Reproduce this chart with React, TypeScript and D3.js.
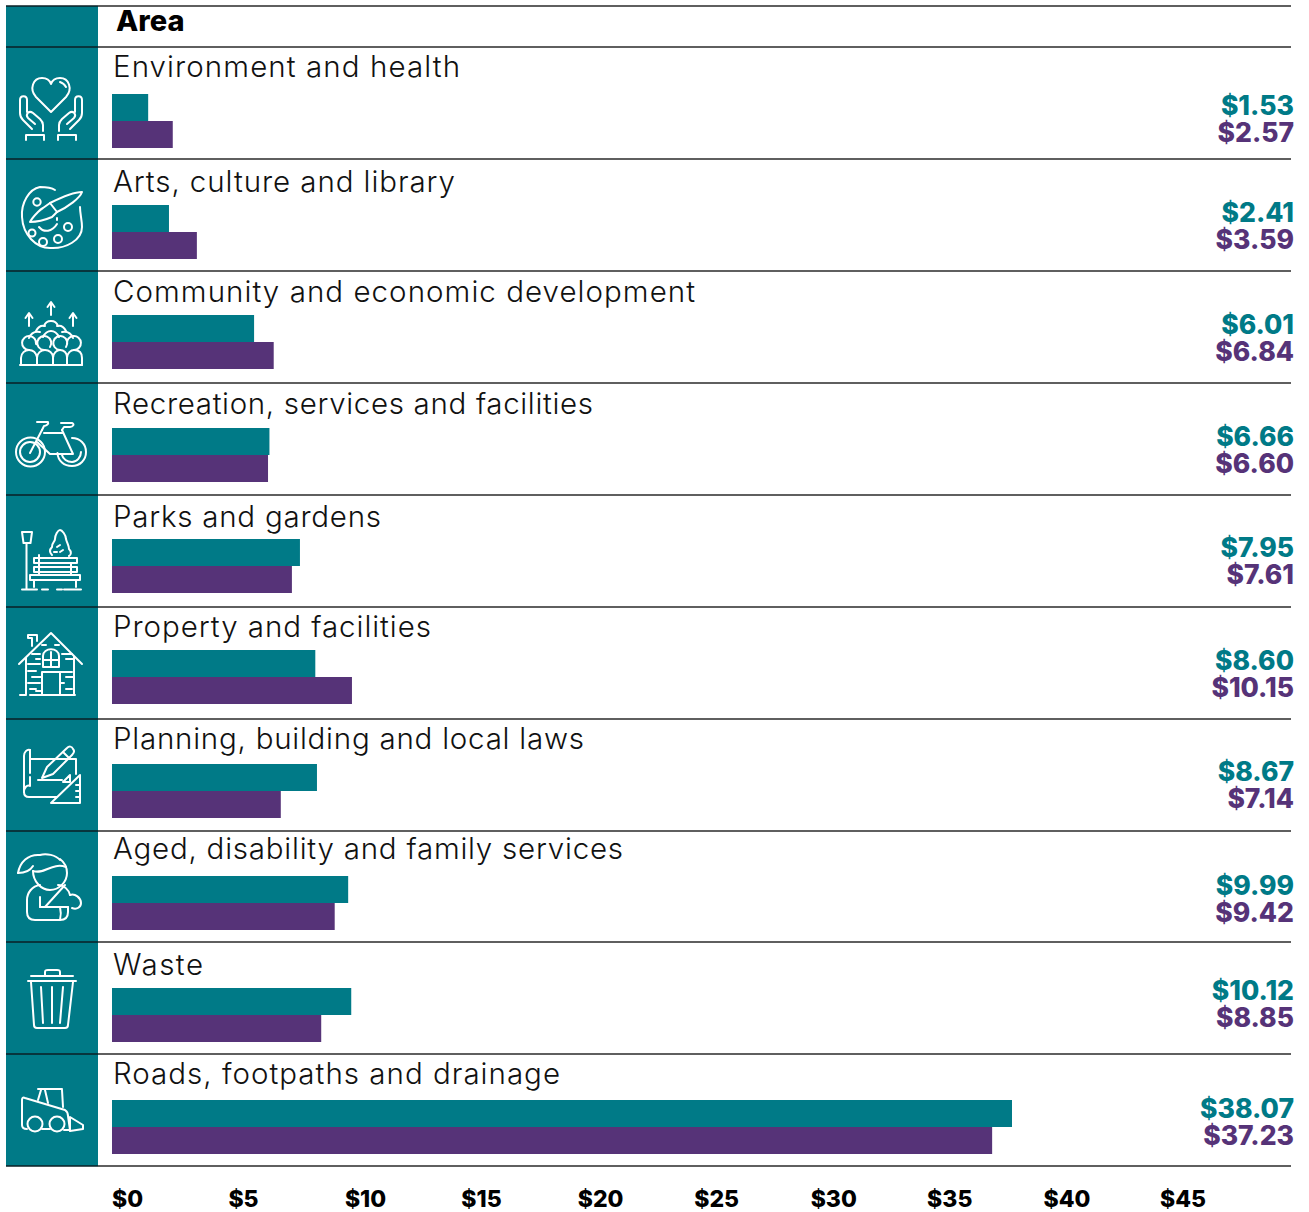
import React from "react";
import * as d3 from "d3";

// Cost per $100 of rates by service area: two financial years side by side
const areas = [
  "Environment and health",
  "Arts, culture and library",
  "Community and economic development",
  "Recreation, services and facilities",
  "Parks and gardens",
  "Property and facilities",
  "Planning, building and local laws",
  "Aged, disability and family services",
  "Waste",
  "Roads, footpaths and drainage",
];
const seriesA = [1.53, 2.41, 6.01, 6.66, 7.95, 8.6, 8.67, 9.99, 10.12, 38.07];
const seriesB = [2.57, 3.59, 6.84, 6.6, 7.61, 10.15, 7.14, 9.42, 8.85, 37.23];
const axisTicks = [0, 5, 10, 15, 20, 25, 30, 35, 40, 45];

// Row layout
const ruleYs = [6, 47, 159, 271, 383, 495, 607, 719, 831, 942, 1054, 1166];
const barTops = [94, 205, 315, 428, 539, 650, 764, 876, 988, 1100];
const nameBaselines = [77, 192, 302, 414, 527, 637, 749, 859, 975, 1084];
const nameWidths = [347, 342, 582, 480, 268, 318, 471, 510, 90, 447];
const valueBaselines = [114, 221, 333, 445, 556, 669, 780, 894, 999, 1117];

const TEAL = "#007a87";
const PURPLE = "#563378";
const FONT = "Inter, 'Noto Sans', sans-serif";

// Line-art pictograms, one per row
const icons: string[][] = [
  [
    "M51 112L36 97C29 89 33 78 42 78C47 78 50 81 51 84C52 81 55 78 60 78C69 78 73 89 66 97Z",
    "M60 82C63 83 65 85 66 87",
    "M32 129L23 120C21 118 20 116 20 113V100C20 95 27 95 27 100V112",
    "M43 131V125C43 123 42 121 40 119L33 113C29 110 25 114 28 118L35 124",
    "M26 140V135H44V140",
    "M70 129L79 120C81 118 82 116 82 113V100C82 95 75 95 75 100V112",
    "M59 131V125C59 123 60 121 62 119L69 113C73 110 77 114 74 118L67 124",
    "M58 140V135H76V140",
  ],
  [
    "M55 190C52 188 45 187 40 187C29 189 21 203 22 217C23 235 36 248 50 248C66 249 82 240 82 227C82 220 80 214 80 207",
    "M33.300 202a3.700 3.700 0 1 0 7.400 0a3.700 3.700 0 1 0 -7.400 0Z",
    "M64 227a4 4 0 1 0 8 0a4 4 0 1 0 -8 0Z",
    "M28.500 233a3.500 3.500 0 1 0 7 0a3.500 3.500 0 1 0 -7 0Z",
    "M39 242a4 4 0 1 0 8 0a4 4 0 1 0 -8 0Z",
    "M54 239a4 4 0 1 0 8 0a4 4 0 1 0 -8 0Z",
    "M50 203C60 198 72 192 82 192C80 198 68 207 57 212",
    "M43 208L50 203L57 212L52 217C45 220 37 222 30 222C32 218 35 215 38 212C40 210 41 209 43 208Z",
    "M39 227C44 233 52 232 57 224",
    "M57 218V220",
  ],
  [
    "M29 326V314M25.500 318L29 313L32.500 318",
    "M51 315V303M47.500 307L51 302L54.500 307",
    "M73 326V314M69.500 318L73 313L76.500 318",
    "M21 365V358C21 353 25 350 29 350C33 350 36 353 37 357V365",
    "M37 365V358C37 353 41 350 45 350C49 350 53 353 53 357V365",
    "M53 365V358C53 353 57 350 60 350C64 350 67 353 67 357V365",
    "M67 365V358C67 353 71 350 74 350C79 350 82 353 82 358V365",
    "M20 365H82",
    "M29 350a7 7 0 1 1 7 -6M44 350a7 7 0 1 1 6 -3M60 350a7 7 0 1 1 6 -3M74 350a7 7 0 1 0 -7 -6",
    "M29 338C31 333 35 331 40 332M43 337C45 333 47 331 51 331C55 331 57 333 59 337M73 338C71 333 67 331 62 332",
    "M36 331C38 327 41 325 45 326M57 326C61 325 64 327 66 331",
    "M44 326C45 323 48 321 51 321C54 321 57 323 58 326",
  ],
  [
    "M16 452a14.500 14.500 0 1 0 29 0a14.500 14.500 0 1 0 -29 0Z",
    "M20 452a10 10 0 1 0 20 0a10 10 0 1 0 -20 0Z",
    "M57.500 453C58 461 64 466 72 466C80 466 86 460 86 452C86 444 80 438 72 438",
    "M62 455C63 459 67 462 72 462C77 462 81 457 81 452",
    "M30 453L42 430M44 433H63M37 442L50 454H73L62 430",
    "M37 422H48C49 424 46 426 44 426L42 430",
    "M61 423H72C75 424 73 427 70 427H64L62 430",
  ],
  [
    "M26.500 589V544",
    "M22 532H32L30.500 543H23.500Z",
    "M22 589.500H37",
    "M42 589.500H48M57 589.500H62M64 589.500H81",
    "M52 555C49 552 50 549 52 547C52 542 55 542 55 539C55 535 58 530 60 530C62 530 66 535 66 539C67 543 69 546 69 549C72 552 71 555 69 556",
    "M57 547L60 545M60 552L63 550M54 552H57",
    "M34 558H77V563H34Z",
    "M34 567H77V572H34Z",
    "M30 575H80V580H30Z",
    "M34 580V587M76 580V587M39 555V575M71 563V575",
  ],
  [
    "M19 664L51 633L82 664",
    "M26 658V694M74 657V694",
    "M32 646V638H28V635H37V641",
    "M43 667V656C43 647 59 647 59 656V667Z",
    "M51 652V667M43 660H59",
    "M42 694V672H60V694",
    "M20 695H26M30 695H75",
    "M32 654H40M36 659H40M28 664H40M28 671H36M32 677H42M28 683H40M30 689H36M36 691H42",
    "M62 654H72M66 659H74M60 672H72M66 677H74M60 683H64M66 689H72",
    "M42 645H46M55 645H59",
  ],
  [
    "M30 750C27 749 24 752 24 756V792C24 795 26 797 29 797H57",
    "M30 750V773M30 777V786C27 784 24 788 24 792",
    "M30 759H76V774",
    "M42 778L47 767L67 748C69 746 72 746 73 749C75 751 74 753 72 755L53 774Z",
    "M63 752L70 759",
    "M38 780H62",
    "M51 803L80 775V803Z",
    "M63 782L70 775V782Z",
    "M80 785H76M80 791H76M80 797H76",
  ],
  [
    "M18 873C20 862 28 854 40 855C46 853 56 855 60 860",
    "M33 866C30 871 26 873 18 873",
    "M33 871C44 875 52 862 66 867",
    "M33 871C33 881 41 890 50 890C59 890 67 882 67 873C67 867 64 862 60 859",
    "M40 885C32 886 27 893 27 900V912C27 917 30 920 35 920H60C65 920 68 917 68 912V907",
    "M40 897V907H45L65 885",
    "M40 907H68",
    "M60 920C61 916 61 911 60 907",
    "M70 895C75 893 81 898 81 903C81 907 77 910 72 908",
    "M58 885C64 885 69 890 70 895",
  ],
  [
    "M28 981H76",
    "M31 976H73",
    "M45 976V972C45 970 46 970 48 970H57C59 970 60 970 60 972V976",
    "M31 982L34 1025C34 1027 35 1028 37 1028H65C67 1028 68 1027 68 1025L73 982",
    "M41 987L43 1023M52 987V1023M63 987L60 1023",
  ],
  [
    "M27 1129C24 1129 22 1128 22 1125V1100C22 1098 23 1097 25 1098L65 1110C68 1112 68 1114 68 1116L70 1130H64",
    "M42 1129H50",
    "M38 1100L41 1090M62 1090L63 1107M45 1090L48 1103",
    "M38 1089H62",
    "M27.500 1124a7.500 7.500 0 1 0 15 0a7.500 7.500 0 1 0 -15 0Z",
    "M49.500 1124a7.500 7.500 0 1 0 15 0a7.500 7.500 0 1 0 -15 0Z",
    "M70 1117L83 1125V1129L70 1131Z",
  ],
];

export default function App() {
  const x = d3.scaleLinear().domain([0, 38.07]).range([112, 1012]);
  // The axis labels sit in evenly spaced columns of their own
  const tickX = d3.scaleLinear().domain([0, 45]).range([112, 1160]);
  const barH = d3.scaleBand().domain(["a", "b"]).range([0, 54]);

  return (
    <svg
      width={1309}
      height={1212}
      viewBox="0 0 1309 1212"
      style={{ position: "absolute", left: 0, top: 0, display: "block", fontFamily: FONT }}
    >
      <rect x={6} y={6} width={92} height={1160} fill={TEAL} />

      {ruleYs.map((y) => (
        <g key={y}>
          <line x1={98} x2={1291} y1={y} y2={y} stroke="#2a2a2a" strokeWidth={1.4} />
          <line x1={6} x2={98} y1={y} y2={y} stroke="#0a1f24" strokeWidth={1.4} />
        </g>
      ))}

      <text x={116} y={31} fontSize={29} fontWeight={800} fill="#000">
        Area
      </text>

      {icons.map((paths, i) => (
        <g key={i} fill="none" stroke="#fff" strokeWidth={2} strokeLinecap="round" strokeLinejoin="round">
          {paths.map((d, j) => (
            <path key={j} d={d} />
          ))}
        </g>
      ))}

      {areas.map((name, i) => (
        <g key={name}>
          <text
            x={113}
            y={nameBaselines[i]}
            fontSize={29.5}
            fontWeight={300}
            fill="#111"
            textLength={nameWidths[i]}
            lengthAdjust="spacing"
          >
            {name}
          </text>
          <rect
            x={x(0)}
            y={barTops[i] + (barH("a") as number)}
            width={x(seriesA[i]) - x(0)}
            height={barH.bandwidth()}
            fill={TEAL}
          />
          <rect
            x={x(0)}
            y={barTops[i] + (barH("b") as number)}
            width={x(seriesB[i]) - x(0)}
            height={barH.bandwidth()}
            fill={PURPLE}
          />
          <text x={1294} y={valueBaselines[i] + 0.5} textAnchor="end" fontSize={26.5} fontWeight={800} fill={TEAL}>
            {d3.format("$.2f")(seriesA[i])}
          </text>
          <text x={1294} y={valueBaselines[i] + 27.5} textAnchor="end" fontSize={26.5} fontWeight={800} fill={PURPLE}>
            {d3.format("$.2f")(seriesB[i])}
          </text>
        </g>
      ))}

      {axisTicks.map((t) => (
        <text key={t} x={tickX(t)} y={1207} fontSize={23} fontWeight={800} fill="#000">
          {`$${t}`}
        </text>
      ))}
    </svg>
  );
}
